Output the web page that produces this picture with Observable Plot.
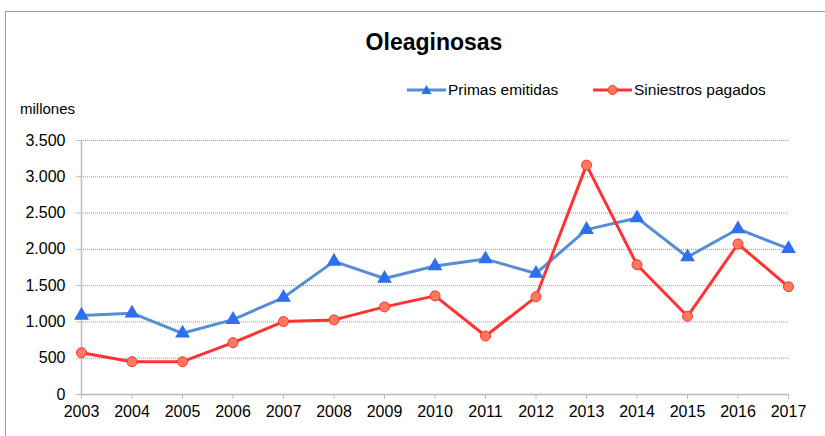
<!DOCTYPE html>
<html><head><meta charset="utf-8">
<script src="https://cdn.jsdelivr.net/npm/d3@7"></script>
<script src="https://cdn.jsdelivr.net/npm/@observablehq/plot@0.6"></script>
<style>
body{margin:0;background:#fff;font-family:"Liberation Sans",Arial,sans-serif;}
#wrap{position:relative;width:825px;height:436px;overflow:hidden;}
#frame{position:absolute;left:5px;top:11px;width:840px;height:460px;border:1px solid #a0a0a0;box-sizing:border-box;}
#title{position:absolute;left:0;width:868px;top:29px;text-align:center;font-weight:bold;font-size:23px;color:#000;}
.leg{position:absolute;top:81px;height:18px;font-size:15.5px;color:#000;display:flex;align-items:center;}
.leg svg{margin-right:2px;}
#units{position:absolute;left:20px;top:100px;font-size:15px;color:#000;}
#chart{position:absolute;left:0;top:0;}
</style></head>
<body>
<div id="wrap">
<div id="frame"></div>
<div id="chart"></div>
<div id="title">Oleaginosas</div>
<div class="leg" style="left:407px"><svg width="39" height="14"><line x1="0" x2="39" y1="7" y2="7" stroke="#558ed5" stroke-width="3"/><path d="M19.5,2 L24.5,11 L14.5,11 Z" fill="#2e6ef0"/></svg>Primas emitidas</div>
<div class="leg" style="left:593px"><svg width="39" height="14"><line x1="0" x2="39" y1="7" y2="7" stroke="#ff3333" stroke-width="3"/><circle cx="19.5" cy="7" r="4.5" fill="#ff7a5a" stroke="#ff3333" stroke-width="1"/></svg>Siniestros pagados</div>
<div id="units">millones</div>
</div>
<script>
const years = [2003,2004,2005,2006,2007,2008,2009,2010,2011,2012,2013,2014,2015,2016,2017];
const primas = [1090,1120,843,1032,1336,1834,1599,1770,1866,1668,2272,2433,1894,2281,2009];
const siniestros = [576,452,452,714,1005,1028,1207,1359,806,1346,3161,1788,1078,2074,1484];
const yTicks = [0,500,1000,1500,2000,2500,3000,3500];

const fmt = d3.formatLocale({decimal:",",thousands:".",grouping:[3],currency:["","€"]}).format(",");
const P = years.map((y,i)=>({year:y,value:primas[i]}));
const S = years.map((y,i)=>({year:y,value:siniestros[i]}));

const chart = Plot.plot({
  width:825, height:436,
  marginLeft:81, marginRight:37, marginTop:140, marginBottom:42,
  style:{fontFamily:"Liberation Sans, Arial, sans-serif", background:"transparent", overflow:"visible"},
  x:{domain:[2003,2017]},
  y:{domain:[0,3500]},
  marks:[
    Plot.ruleY(yTicks.filter(d=>d>0),{stroke:"#999",strokeDasharray:"1,1",strokeWidth:1}),
    Plot.ruleX([2003],{stroke:"#bbb",strokeWidth:1.5}),
    Plot.ruleY([0],{stroke:"#bbb",strokeWidth:1.5}),
    Plot.axisY({ticks:yTicks,tickFormat:fmt,tickSize:5,tickPadding:11,fontSize:16,stroke:"#bbb",color:"#000",label:null}),
    Plot.axisX({ticks:years,tickFormat:d=>String(d),tickSize:5,tickPadding:6,fontSize:16,stroke:"#bbb",color:"#000",label:null}),
    Plot.line(P,{x:"year",y:"value",stroke:"#558ed5",strokeWidth:3}),
    Plot.line(S,{x:"year",y:"value",stroke:"#ff3333",strokeWidth:3}),
    Plot.dot(P,{x:"year",y:"value",symbol:"triangle",r:5.5,fill:"#2e6ef0",stroke:"none"}),
    Plot.dot(S,{x:"year",y:"value",r:5,fill:"#ff7a5a",stroke:"#ff3333",strokeWidth:1})
  ]
});
document.getElementById("chart").appendChild(chart);
</script>
</body></html>
